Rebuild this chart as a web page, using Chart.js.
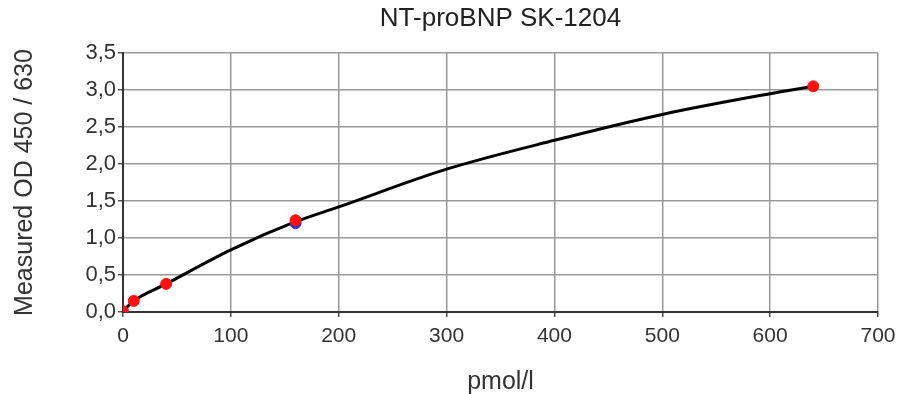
<!DOCTYPE html>
<html>
<head>
<meta charset="utf-8">
<title>NT-proBNP SK-1204</title>
<script src="https://cdn.jsdelivr.net/npm/chart.js@4"></script>
<style>
    html, body { margin: 0; padding: 0; background: #fff; }
    #wrap { width: 897px; height: 394px; }
</style>
</head>
<body>
<div id="wrap"><canvas id="Chart" width="897" height="394"></canvas></div>
<script>
// standards measured (pmol/l -> OD)
const stdConc = [0, 10, 40, 160, 640];
const stdOD = [0.01, 0.15, 0.38, 1.24, 3.05];

// second replicate at 160 (the blue one hidden under the red)
const repConc = [160];
const repOD = [1.20];

// fitted curve
const fitConc = [0, 10, 40, 100, 160, 200, 300, 400, 500, 600, 640];
const fitOD = [0.01, 0.15, 0.38, 0.84, 1.22, 1.42, 1.93, 2.32, 2.67, 2.95, 3.05];

// axis ticks
const xTicks = [0, 100, 200, 300, 400, 500, 600, 700];
const yTicks = ['0,0', '0,5', '1,0', '1,5', '2,0', '2,5', '3,0', '3,5'];

const chartTitle = 'NT-proBNP SK-1204';

function toPoints(xs, ys) {
    return xs.map((x, i) => ({ x: x, y: ys[i] }));
}

const fontName = "'Liberation Sans', Arial, sans-serif";
const gridColor = '#9a9a9a';

// title centred over the plot area, not over the whole canvas
const plotTitle = {
    id: 'plotTitle',
    afterDraw(chart) {
        const c = chart.ctx;
        const area = chart.chartArea;
        c.save();
        c.font = `26px ${fontName}`;
        c.fillStyle = '#222';
        c.textAlign = 'center';
        c.textBaseline = 'middle';
        c.fillText(chartTitle, (area.left + area.right) / 2, 19);
        c.restore();
    }
};

const ctx = document.getElementById('Chart').getContext('2d');
const myChart = new Chart(ctx, {
    type: 'scatter',
    data: {
        datasets: [
            {
                label: 'standards',
                data: toPoints(stdConc, stdOD),
                backgroundColor: '#ff1010',
                borderColor: '#ff1010',
                pointRadius: 5.5,
                order: 1
            },
            {
                label: 'replicate',
                data: toPoints(repConc, repOD),
                backgroundColor: '#3030c0',
                borderColor: '#3030c0',
                pointRadius: 5.5,
                order: 2
            },
            {
                label: 'fit',
                data: toPoints(fitConc, fitOD),
                showLine: true,
                cubicInterpolationMode: 'monotone',
                borderColor: '#000',
                borderWidth: 3,
                pointRadius: 0,
                order: 3
            }
        ]
    },
    options: {
        responsive: false,
        animation: false,
        layout: { padding: { top: 53, right: 0 } },
        plugins: {
            legend: { display: false },
            tooltip: { enabled: false },
            title: { display: false }
        },
        scales: {
            x: {
                type: 'linear',
                min: 0,
                max: 700,
                afterBuildTicks: axis => { axis.ticks = xTicks.map(v => ({ value: v })); },
                afterFit: axis => {
                    axis.height = 82;
                    axis.paddingRight = 19; // plot runs almost to the right edge
                },
                ticks: {
                    color: '#333',
                    font: { family: fontName, size: 21 },
                    padding: 7
                },
                grid: { color: gridColor, lineWidth: 1.5, tickLength: 5, tickColor: '#555' },
                border: { color: '#333', width: 2 },
                title: {
                    display: true,
                    text: 'pmol/l',
                    color: '#333',
                    font: { family: fontName, size: 25, lineHeight: 1 },
                    padding: { top: 0, bottom: -1 }
                }
            },
            y: {
                type: 'linear',
                min: 0,
                max: 3.5,
                afterBuildTicks: axis => { axis.ticks = yTicks.map((t, i) => ({ value: i * 0.5 })); },
                afterFit: axis => { axis.width = 123; },
                ticks: {
                    color: '#333',
                    font: { family: fontName, size: 22 },
                    padding: 2,
                    callback: function(value, index) {
                        return yTicks[index]; // comma decimals like the original
                    }
                },
                grid: { color: gridColor, lineWidth: 1.5, tickLength: 5, tickColor: '#555' },
                border: { color: '#333', width: 2 },
                title: {
                    display: true,
                    text: 'Measured OD 450 / 630',
                    color: '#333',
                    font: { family: fontName, size: 25, lineHeight: 1 },
                    padding: { top: 13, bottom: 0 }
                }
            }
        }
    },
    plugins: [plotTitle]
});
</script>
</body>
</html>
